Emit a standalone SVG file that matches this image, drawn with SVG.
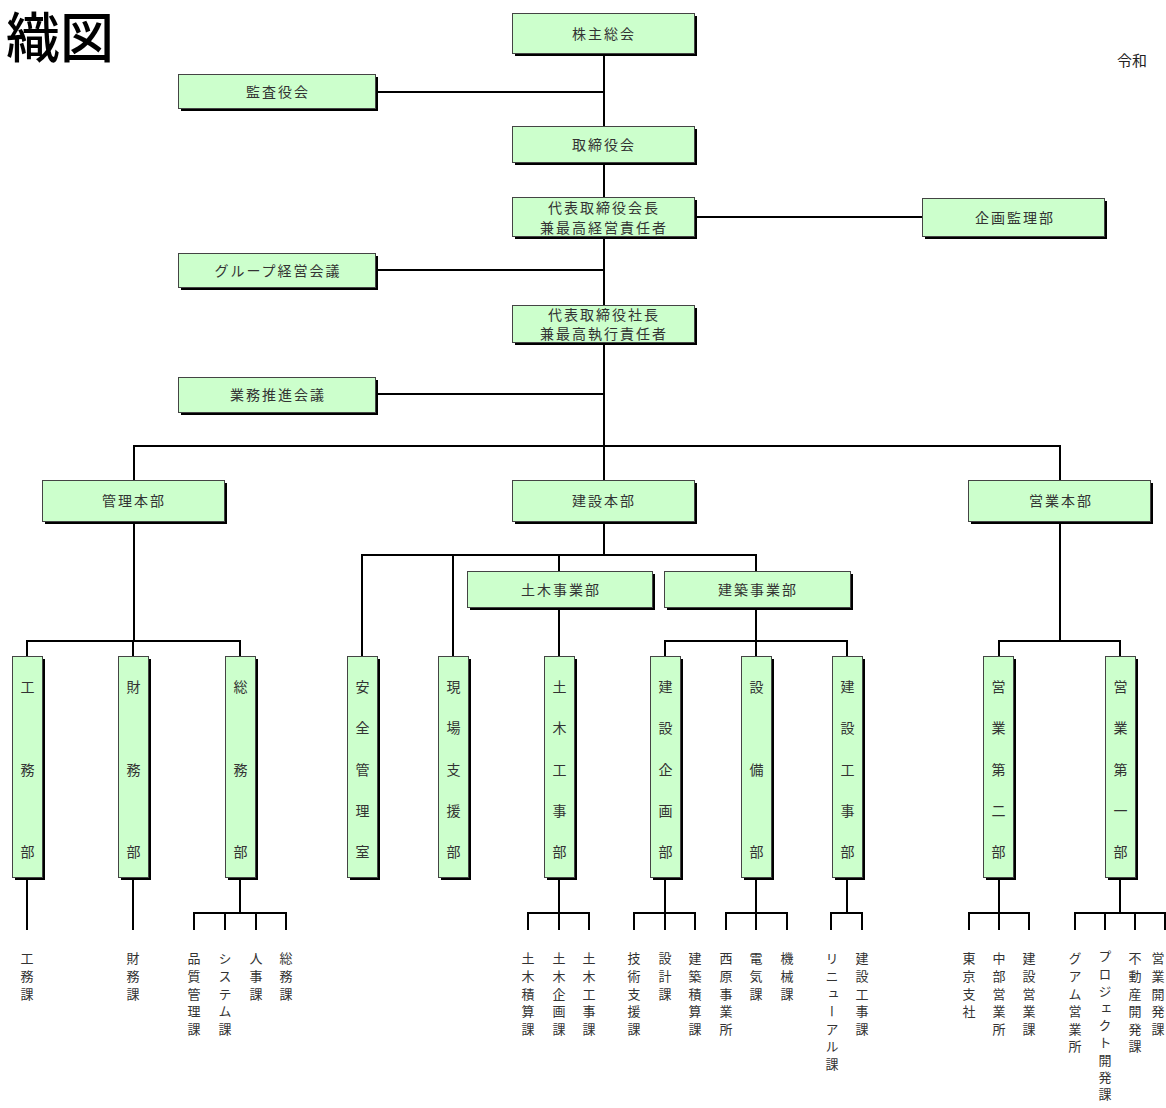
<svg xmlns="http://www.w3.org/2000/svg" width="1166" height="1108" viewBox="0 0 1166 1108">
<style>
.sh{fill:#000}
.bx{fill:#ccffcc;stroke:#444;stroke-width:1}
.t{font-family:"Noto Sans CJK JP","Noto Sans",sans-serif;font-size:14px;fill:#333;text-anchor:middle;letter-spacing:2px}
.v{font-family:"Noto Sans CJK JP","Noto Sans",sans-serif;font-size:14px;fill:#333;text-anchor:middle}
.lb{font-family:"Noto Sans CJK JP","Noto Sans",sans-serif;font-size:13px;fill:#333;writing-mode:vertical-rl;letter-spacing:4.6px}
.c{stroke:#000;stroke-width:2;fill:none}
</style>
<rect width="1166" height="1108" fill="#fff"/>
<text x="114" y="58" font-family="'Noto Sans CJK JP',sans-serif" font-size="54" font-weight="500" text-anchor="end" fill="#000">織図</text>
<text x="1117" y="66" font-family="'Noto Sans CJK JP',sans-serif" font-size="15" fill="#222">令和</text>

<g id="connectors" class="c">
<path d="M604 53V480"/>
<path d="M378 92H604M694 217H922M378 270H604M378 394H604"/>
<path d="M134 480V446H1060V480"/>
<path d="M134 521V641M27 656V641H240V656M133 641V656"/>
<path d="M604 521V555M362 656V555H756V571M453 555V656M559 555V571"/>
<path d="M559 607V656"/>
<path d="M756 607V656M665 656V641H847V656"/>
<path d="M1060 521V641M999 656V641H1120V656"/>
<path d="M27 880V930M133 880V930"/>
<path d="M240 880V913M194 930V913H286V930M225 913V930M256 913V930"/>
<path d="M559 880V913M528 930V913H589V930M559 913V930"/>
<path d="M665 880V913M634 930V913H695V930M665 913V930"/>
<path d="M756 880V913M726 930V913H787V930M756 913V930"/>
<path d="M847 880V913M831 930V913H862V930"/>
<path d="M999 880V913M969 930V913H1029V930M999 913V930"/>
<path d="M1120 880V913M1075 930V913H1170M1105 913V930M1135 913V930M1165 913V930"/>
</g>

<g id="n-kabunushi"><rect class="sh" x="515" y="16" width="182" height="40"/><rect class="bx" x="512.5" y="13.5" width="182" height="40"/><text class="t" x="604" y="39">株主総会</text></g>
<g id="n-kansa"><rect class="sh" x="181" y="77" width="197" height="34"/><rect class="bx" x="178.5" y="74.5" width="197" height="34"/><text class="t" x="278" y="97">監査役会</text></g>
<g id="n-torishimari"><rect class="sh" x="515" y="129" width="182" height="36"/><rect class="bx" x="512.5" y="126.5" width="182" height="36"/><text class="t" x="604" y="150">取締役会</text></g>
<g id="n-kaicho"><rect class="sh" x="515" y="200" width="182" height="39"/><rect class="bx" x="512.5" y="197.5" width="182" height="39"/><text class="t" x="604" y="213">代表取締役会長</text><text class="t" x="604" y="233">兼最高経営責任者</text></g>
<g id="n-kikaku"><rect class="sh" x="925" y="201" width="182" height="38"/><rect class="bx" x="922.5" y="198.5" width="182" height="38"/><text class="t" x="1015" y="223">企画監理部</text></g>
<g id="n-group"><rect class="sh" x="181" y="256" width="197" height="34"/><rect class="bx" x="178.5" y="253.5" width="197" height="34"/><text class="t" x="278" y="276">グループ経営会議</text></g>
<g id="n-shacho"><rect class="sh" x="515" y="308" width="182" height="37"/><rect class="bx" x="512.5" y="305.5" width="182" height="37"/><text class="t" x="604" y="320">代表取締役社長</text><text class="t" x="604" y="339">兼最高執行責任者</text></g>
<g id="n-gyomu"><rect class="sh" x="181" y="380" width="197" height="35"/><rect class="bx" x="178.5" y="377.5" width="197" height="35"/><text class="t" x="278" y="400">業務推進会議</text></g>
<g id="n-kanri"><rect class="sh" x="45" y="483" width="182" height="41"/><rect class="bx" x="42.5" y="480.5" width="182" height="41"/><text class="t" x="134" y="506">管理本部</text></g>
<g id="n-kensetsu"><rect class="sh" x="515" y="483" width="182" height="41"/><rect class="bx" x="512.5" y="480.5" width="182" height="41"/><text class="t" x="604" y="506">建設本部</text></g>
<g id="n-eigyo"><rect class="sh" x="971" y="483" width="182" height="41"/><rect class="bx" x="968.5" y="480.5" width="182" height="41"/><text class="t" x="1061" y="506">営業本部</text></g>
<g id="n-doboku"><rect class="sh" x="470" y="574" width="185" height="36"/><rect class="bx" x="467.5" y="571.5" width="185" height="36"/><text class="t" x="561" y="595">土木事業部</text></g>
<g id="n-kenchiku"><rect class="sh" x="667" y="574" width="186" height="36"/><rect class="bx" x="664.5" y="571.5" width="186" height="36"/><text class="t" x="758" y="595">建築事業部</text></g>

<g id="v-komu"><rect class="sh" x="15" y="659" width="30" height="221"/><rect class="bx" x="12.5" y="656.5" width="30" height="221"/><text class="v" x="27.5" y="692">工</text><text class="v" x="27.5" y="775">務</text><text class="v" x="27.5" y="857">部</text></g>
<g id="v-zaimu"><rect class="sh" x="121" y="659" width="30" height="221"/><rect class="bx" x="118.5" y="656.5" width="30" height="221"/><text class="v" x="133.5" y="692">財</text><text class="v" x="133.5" y="775">務</text><text class="v" x="133.5" y="857">部</text></g>
<g id="v-somu"><rect class="sh" x="228" y="659" width="30" height="221"/><rect class="bx" x="225.5" y="656.5" width="30" height="221"/><text class="v" x="240.5" y="692">総</text><text class="v" x="240.5" y="775">務</text><text class="v" x="240.5" y="857">部</text></g>
<g id="v-anzen"><rect class="sh" x="350" y="659" width="30" height="221"/><rect class="bx" x="347.5" y="656.5" width="30" height="221"/><text class="v" x="362.5" y="692">安</text><text class="v" x="362.5" y="733">全</text><text class="v" x="362.5" y="775">管</text><text class="v" x="362.5" y="816">理</text><text class="v" x="362.5" y="857">室</text></g>
<g id="v-genba"><rect class="sh" x="441" y="659" width="30" height="221"/><rect class="bx" x="438.5" y="656.5" width="30" height="221"/><text class="v" x="453.5" y="692">現</text><text class="v" x="453.5" y="733">場</text><text class="v" x="453.5" y="775">支</text><text class="v" x="453.5" y="816">援</text><text class="v" x="453.5" y="857">部</text></g>
<g id="v-dobokukoji"><rect class="sh" x="547" y="659" width="30" height="221"/><rect class="bx" x="544.5" y="656.5" width="30" height="221"/><text class="v" x="559.5" y="692">土</text><text class="v" x="559.5" y="733">木</text><text class="v" x="559.5" y="775">工</text><text class="v" x="559.5" y="816">事</text><text class="v" x="559.5" y="857">部</text></g>
<g id="v-kikakubu"><rect class="sh" x="653" y="659" width="30" height="221"/><rect class="bx" x="650.5" y="656.5" width="30" height="221"/><text class="v" x="665.5" y="692">建</text><text class="v" x="665.5" y="733">設</text><text class="v" x="665.5" y="775">企</text><text class="v" x="665.5" y="816">画</text><text class="v" x="665.5" y="857">部</text></g>
<g id="v-setsubi"><rect class="sh" x="744" y="659" width="30" height="221"/><rect class="bx" x="741.5" y="656.5" width="30" height="221"/><text class="v" x="756.5" y="692">設</text><text class="v" x="756.5" y="775">備</text><text class="v" x="756.5" y="857">部</text></g>
<g id="v-kensetsukoji"><rect class="sh" x="835" y="659" width="30" height="221"/><rect class="bx" x="832.5" y="656.5" width="30" height="221"/><text class="v" x="847.5" y="692">建</text><text class="v" x="847.5" y="733">設</text><text class="v" x="847.5" y="775">工</text><text class="v" x="847.5" y="816">事</text><text class="v" x="847.5" y="857">部</text></g>
<g id="v-eigyo2"><rect class="sh" x="986" y="659" width="30" height="221"/><rect class="bx" x="983.5" y="656.5" width="30" height="221"/><text class="v" x="998.5" y="692">営</text><text class="v" x="998.5" y="733">業</text><text class="v" x="998.5" y="775">第</text><text class="v" x="998.5" y="816">二</text><text class="v" x="998.5" y="857">部</text></g>
<g id="v-eigyo1"><rect class="sh" x="1108" y="659" width="30" height="221"/><rect class="bx" x="1105.5" y="656.5" width="30" height="221"/><text class="v" x="1120.5" y="692">営</text><text class="v" x="1120.5" y="733">業</text><text class="v" x="1120.5" y="775">第</text><text class="v" x="1120.5" y="816">一</text><text class="v" x="1120.5" y="857">部</text></g>

<g id="labels">
<text class="lb" x="27" y="952">工務課</text>
<text class="lb" x="133" y="952">財務課</text>
<text class="lb" x="194" y="952">品質管理課</text>
<text class="lb" x="225" y="952">システム課</text>
<text class="lb" x="256" y="952">人事課</text>
<text class="lb" x="286" y="952">総務課</text>
<text class="lb" x="528" y="952">土木積算課</text>
<text class="lb" x="559" y="952">土木企画課</text>
<text class="lb" x="589" y="952">土木工事課</text>
<text class="lb" x="634" y="952">技術支援課</text>
<text class="lb" x="665" y="952">設計課</text>
<text class="lb" x="695" y="952">建築積算課</text>
<text class="lb" x="726" y="952">西原事業所</text>
<text class="lb" x="756" y="952">電気課</text>
<text class="lb" x="787" y="952">機械課</text>
<text class="lb" x="832" y="952">リニューアル課</text>
<text class="lb" x="862" y="952">建設工事課</text>
<text class="lb" x="969" y="952">東京支社</text>
<text class="lb" x="999" y="952">中部営業所</text>
<text class="lb" x="1029" y="952">建設営業課</text>
<text class="lb" x="1075" y="952">グアム営業所</text>
<text class="lb" x="1105" y="950" style="letter-spacing:4.2px">プロジェクト開発課</text>
<text class="lb" x="1135" y="952">不動産開発課</text>
<text class="lb" x="1158" y="952">営業開発課</text>
</g>
</svg>
